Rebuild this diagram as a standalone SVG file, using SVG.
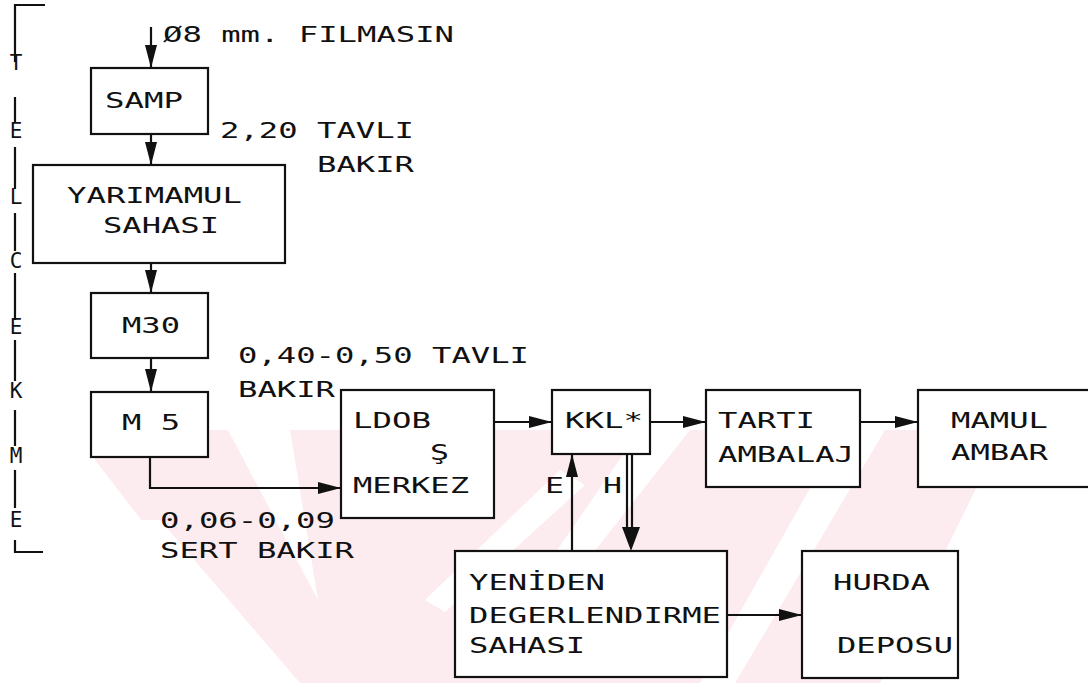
<svg xmlns="http://www.w3.org/2000/svg" width="1088" height="683" viewBox="0 0 1088 683">
<style>
.t{font-family:"DejaVu Sans Mono","Liberation Mono",monospace;font-size:21px;fill:#111}
.l{font-family:"DejaVu Sans Mono","Liberation Mono",monospace;font-size:21px;fill:#111;text-anchor:middle}
.b{fill:#fff;stroke:#111;stroke-width:2.2}
.c{fill:none;stroke:#111;stroke-width:2.2}
.w{fill:#fdecef}
.ws{fill:#fff}
</style>
<defs>
<marker id="ah" markerUnits="userSpaceOnUse" markerWidth="24" markerHeight="12" refX="23" refY="6" orient="auto">
<path d="M0,0 L23,6 L0,12 z" fill="#111"/>
</marker>
</defs>
<rect width="1088" height="683" fill="#fff"/>
<g id="watermark">
<polygon class="w" points="95,430 1005,430 880,683 267,683 95,460"/>
<polygon class="ws" points="228,430 290,430 318,600"/>
<polygon class="ws" points="640,430 690,430 560,595 540,575"/>
<polygon class="ws" points="560,470 585,485 445,612 425,600"/>
<polygon class="ws" points="843,430 885,430 735,683 700,683"/>
<polygon class="ws" points="120,520 160,520 300,683 250,683"/>
</g>
<g id="side-label">
<path class="c" d="M45,5 H15 V62 M15,97 V122 M15,147 V189 M15,213 V251 M15,273 V320 M15,340 V381 M15,410 V446 M15,470 V508 M15,540 V552 H43"/>
<text class="l" x="16" y="70">T</text>
<text class="l" x="16" y="138">E</text>
<text class="l" x="16" y="204">L</text>
<text class="l" x="16" y="268">C</text>
<text class="l" x="16" y="334">E</text>
<text class="l" x="16" y="398">K</text>
<text class="l" x="16" y="463">M</text>
<text class="l" x="16" y="527">E</text>
</g>
<g id="connectors">
<line class="c" x1="151" y1="27" x2="151" y2="68" marker-end="url(#ah)"/>
<line class="c" x1="151" y1="134" x2="151" y2="165" marker-end="url(#ah)"/>
<line class="c" x1="151" y1="263" x2="151" y2="293" marker-end="url(#ah)"/>
<line class="c" x1="151" y1="358" x2="151" y2="392" marker-end="url(#ah)"/>
<polyline class="c" points="150,457 150,488 341,488" marker-end="url(#ah)"/>
<line class="c" x1="494" y1="422" x2="552" y2="422" marker-end="url(#ah)"/>
<line class="c" x1="650" y1="422" x2="706" y2="422" marker-end="url(#ah)"/>
<line class="c" x1="860" y1="422" x2="918" y2="422" marker-end="url(#ah)"/>
<line class="c" x1="572" y1="551" x2="572" y2="454" marker-end="url(#ah)"/>
<line class="c" x1="627" y1="454" x2="627" y2="530"/>
<line class="c" x1="632" y1="454" x2="632" y2="530"/>
<polygon points="622,527 640,527 631,551" fill="#111"/>
<line class="c" x1="727" y1="615" x2="802" y2="615" marker-end="url(#ah)"/>
<text class="t" x="163" y="42" textLength="291" lengthAdjust="spacingAndGlyphs">Ø8 mm. FILMASIN</text>
<text class="t" x="220" y="138" textLength="194" lengthAdjust="spacingAndGlyphs">2,20 TAVLI</text>
<text class="t" x="317" y="172" textLength="97" lengthAdjust="spacingAndGlyphs">BAKIR</text>
<text class="t" x="238" y="363" textLength="291" lengthAdjust="spacingAndGlyphs">0,40-0,50 TAVLI</text>
<text class="t" x="238" y="397" textLength="97" lengthAdjust="spacingAndGlyphs">BAKIR</text>
<text class="t" x="160" y="528" textLength="175" lengthAdjust="spacingAndGlyphs">0,06-0,09</text>
<text class="t" x="160" y="558" textLength="194" lengthAdjust="spacingAndGlyphs">SERT BAKIR</text>
<text class="t" x="545" y="493" textLength="19" lengthAdjust="spacingAndGlyphs">E</text>
<text class="t" x="603" y="493" textLength="19" lengthAdjust="spacingAndGlyphs">H</text>
</g>
<g id="samp">
<rect class="b" x="91" y="68" width="117" height="66"/>
<text class="t" x="105" y="108" textLength="78" lengthAdjust="spacingAndGlyphs">SAMP</text>
</g>
<g id="yarimamul">
<rect class="b" x="33" y="165" width="252" height="98"/>
<text class="t" x="67" y="203" textLength="175" lengthAdjust="spacingAndGlyphs">YARIMAMUL</text>
<text class="t" x="103" y="233" textLength="116" lengthAdjust="spacingAndGlyphs">SAHASI</text>
</g>
<g id="m30">
<rect class="b" x="91" y="293" width="117" height="65"/>
<text class="t" x="122" y="333" textLength="58" lengthAdjust="spacingAndGlyphs">M30</text>
</g>
<g id="m5">
<rect class="b" x="91" y="392" width="117" height="65"/>
<text class="t" x="122" y="430" textLength="58" lengthAdjust="spacingAndGlyphs">M 5</text>
</g>
<g id="ldob">
<rect class="b" x="341" y="390" width="153" height="128"/>
<text class="t" x="353" y="428" textLength="78" lengthAdjust="spacingAndGlyphs">LDOB</text>
<text class="t" x="430" y="460" textLength="19" lengthAdjust="spacingAndGlyphs">Ş</text>
<text class="t" x="353" y="493" textLength="116" lengthAdjust="spacingAndGlyphs">MERKEZ</text>
</g>
<g id="kkl">
<rect class="b" x="552" y="390" width="98" height="64"/>
<text class="t" x="565" y="428" textLength="78" lengthAdjust="spacingAndGlyphs">KKL*</text>
</g>
<g id="tarti">
<rect class="b" x="706" y="390" width="154" height="97"/>
<text class="t" x="718" y="428" textLength="97" lengthAdjust="spacingAndGlyphs">TARTI</text>
<text class="t" x="718" y="462" textLength="136" lengthAdjust="spacingAndGlyphs">AMBALAJ</text>
</g>
<g id="mamul">
<rect class="b" x="918" y="390" width="175" height="97"/>
<text class="t" x="951" y="428" textLength="97" lengthAdjust="spacingAndGlyphs">MAMUL</text>
<text class="t" x="951" y="460" textLength="97" lengthAdjust="spacingAndGlyphs">AMBAR</text>
</g>
<g id="yeniden">
<rect class="b" x="455" y="551" width="272" height="126"/>
<text class="t" x="469" y="590" textLength="136" lengthAdjust="spacingAndGlyphs">YENİDEN</text>
<text class="t" x="469" y="623" textLength="252" lengthAdjust="spacingAndGlyphs">DEGERLENDIRME</text>
<text class="t" x="469" y="653" textLength="116" lengthAdjust="spacingAndGlyphs">SAHASI</text>
</g>
<g id="hurda">
<rect class="b" x="802" y="551" width="156" height="127"/>
<text class="t" x="833" y="590" textLength="97" lengthAdjust="spacingAndGlyphs">HURDA</text>
<text class="t" x="837" y="653" textLength="116" lengthAdjust="spacingAndGlyphs">DEPOSU</text>
</g>
</svg>
